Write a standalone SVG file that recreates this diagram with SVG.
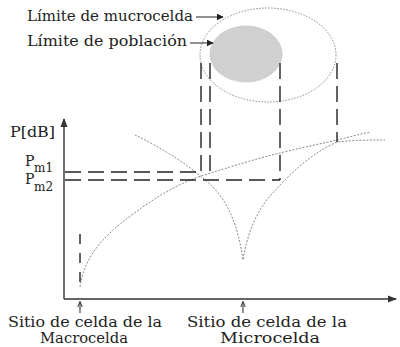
<svg xmlns="http://www.w3.org/2000/svg" width="400" height="347" viewBox="0 0 400 347">
<style>
.t{font-family:"DejaVu Serif","Liberation Serif",serif;font-size:14px;fill:#222}
.s{font-family:"DejaVu Serif","Liberation Serif",serif;font-size:12px;fill:#222}
.dash{fill:none;stroke:#222;stroke-width:1.4;stroke-dasharray:16 7}
.curve{fill:none;stroke:#888;stroke-width:1;stroke-dasharray:2 1.5}
.axis{fill:none;stroke:#333;stroke-width:1.4}
.arr{fill:none;stroke:#222;stroke-width:1}
</style>
<defs>
<marker id="ah" viewBox="0 0 10 10" refX="9" refY="5" markerWidth="7" markerHeight="7" orient="auto" markerUnits="userSpaceOnUse"><path d="M0,0 L10,5 L0,10 z" fill="#222"/></marker>
<marker id="ahs" viewBox="0 0 10 10" refX="9" refY="5" markerWidth="6" markerHeight="6" orient="auto" markerUnits="userSpaceOnUse"><path d="M0,1 L10,5 L0,9" fill="none" stroke="#222" stroke-width="1.5"/></marker>
<marker id="axh" viewBox="0 0 10 10" refX="9" refY="5" markerWidth="9" markerHeight="9" orient="auto" markerUnits="userSpaceOnUse"><path d="M0,1 L10,5 L0,9 z" fill="#333"/></marker>
</defs>
<g id="microcell-boundary">
<ellipse cx="268" cy="55" rx="68" ry="47" fill="none" stroke="#888" stroke-width="1" stroke-dasharray="1.5 1.5"/>
</g>
<g id="population-boundary">
<ellipse cx="246" cy="54" rx="36" ry="28" fill="#d0d0d0" stroke="#bbb" stroke-width="1" stroke-dasharray="1.5 1"/>
</g>
<g id="axes">
<path class="axis" d="M64,299 V119" marker-end="url(#axh)"/>
<path class="axis" d="M64,299 H396" marker-end="url(#axh)"/>
</g>
<g id="curves">
<path id="macro-curve" class="curve" d="M80,287 C84,262 95,242 133,214 C155,198 175,185 201,176 C230,167 255,159 280,153 C300,148 320,144 337,140 C350,137 360,134 370,132"/>
<path id="micro-curve" class="curve" d="M135,135 C160,147 190,165 213,187 C228,203 238,225 243,260 C247,235 256,212 270,196 C290,174 310,154 337,142 C355,140 370,140 385,140"/>
</g>
<g id="connectors">
<path class="dash" d="M201,63 V173"/>
<path class="dash" d="M210,63 V178"/>
<path class="dash" d="M280,63 V180"/>
<path class="dash" d="M337,63 V142"/>
<path class="dash" d="M65,172 H201"/>
<path class="dash" d="M65,180 H280"/>
<path class="dash" d="M80,234 V283" style="stroke-dasharray:10 9"/>
<path class="arr" d="M196,17 H223" marker-end="url(#ah)"/>
<path class="arr" d="M190,43 H213" marker-end="url(#ah)"/>
<path class="arr" d="M80,313 V302" marker-end="url(#ahs)"/>
<path class="arr" d="M243,313 V302" marker-end="url(#ahs)"/>
</g>
<g id="labels">
<text class="t" x="27" y="21" textLength="166" lengthAdjust="spacingAndGlyphs">Límite de mucrocelda</text>
<text class="t" x="27" y="46" textLength="160" lengthAdjust="spacingAndGlyphs">Límite de población</text>
<text class="t" x="10" y="137" textLength="45" lengthAdjust="spacingAndGlyphs">P[dB]</text>
<text class="t" x="25" y="166">P</text>
<text class="s" x="34" y="172">m1</text>
<text class="t" x="25" y="184">P</text>
<text class="s" x="34" y="191">m2</text>
<text class="t" x="8" y="327" textLength="154" lengthAdjust="spacingAndGlyphs">Sitio de celda de la</text>
<text class="t" x="40" y="343" textLength="88" lengthAdjust="spacingAndGlyphs">Macrocelda</text>
<text class="t" x="187" y="327" textLength="160" lengthAdjust="spacingAndGlyphs">Sitio de celda de la</text>
<text class="t" x="220" y="343" textLength="100" lengthAdjust="spacingAndGlyphs">Microcelda</text>
</g>
</svg>
